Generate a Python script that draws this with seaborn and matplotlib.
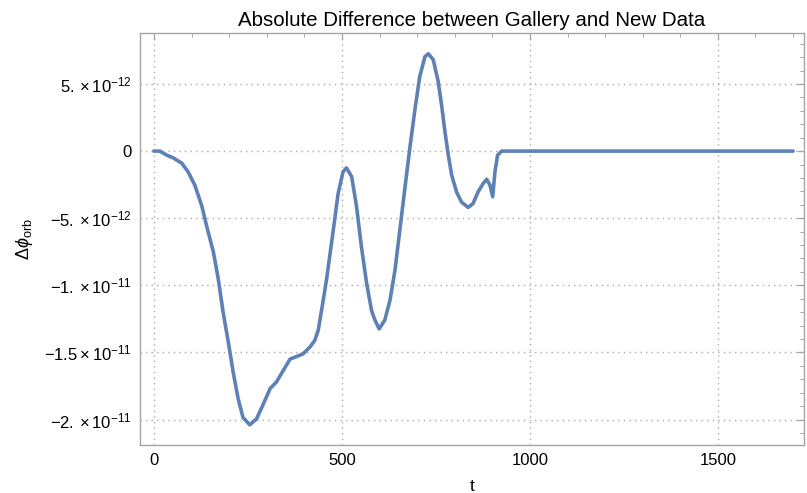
import numpy as np
import pandas as pd
import matplotlib
matplotlib.use("Agg")
import matplotlib.pyplot as plt
from matplotlib.ticker import MultipleLocator, FixedLocator
import seaborn as sns

# data (values of delta phi in units of 1e-12)
t_vals = [0, 16, 34, 51, 74, 91, 109, 127, 140, 158, 171, 184, 198, 211, 224,
          237, 255, 273, 291, 309, 326, 344, 362, 380, 397, 415, 428, 437, 446,
          459, 477, 490, 503, 512, 526, 539, 552, 566, 579, 588, 599, 614, 628,
          641, 654, 668, 681, 694, 707, 721, 730, 743, 756, 765, 774, 783, 792,
          805, 818, 836, 849, 862, 876, 885, 894, 901, 907, 914, 925, 1000,
          1200, 1400, 1600, 1700]
dphi_e12 = [0, 0, -0.3, -0.5, -0.9, -1.55, -2.55, -4.05, -5.55, -7.5, -9.5,
            -12.0, -14.25, -16.5, -18.45, -19.85, -20.4, -19.95, -18.85, -17.7,
            -17.2, -16.35, -15.5, -15.3, -15.1, -14.6, -14.1, -13.35, -11.85,
            -9.6, -5.9, -3.15, -1.55, -1.25, -1.9, -4.15, -7.15, -9.9, -11.9,
            -12.6, -13.25, -12.6, -11.1, -8.9, -5.9, -2.65, 0.3, 3.05, 5.55,
            7.05, 7.25, 6.8, 5.2, 3.45, 1.45, -0.3, -1.8, -3.05, -3.8, -4.2,
            -3.9, -3.05, -2.4, -2.1, -2.55, -3.4, -1.55, -0.3, 0, 0, 0, 0, 0, 0]

x_ticks = [0, 500, 1000, 1500]
x_tick_labels = ["0", "500", "1000", "1500"]
y_ticks = [5e-12, 0, -5e-12, -1e-11, -1.5e-11, -2e-11]
y_tick_labels = [r"$5.\times10^{-12}$", "0", r"$-5.\times10^{-12}$",
                 r"$-1.\times10^{-11}$", r"$-1.5\times10^{-11}$", r"$-2.\times10^{-11}$"]

df = pd.DataFrame({"t": t_vals, "dphi": np.array(dphi_e12) * 1e-12})

sns.set_style("white")
plt.rcParams["font.family"] = ["Liberation Sans", "DejaVu Sans"]
plt.rcParams["mathtext.fontset"] = "custom"
plt.rcParams["mathtext.rm"] = "Liberation Sans"
plt.rcParams["mathtext.it"] = "Liberation Sans:italic"
plt.rcParams["mathtext.bf"] = "Liberation Sans:bold"
plt.rcParams["text.color"] = "black"
plt.rcParams["axes.labelcolor"] = "black"

fig = plt.figure(figsize=(8.07, 4.93), dpi=100)
ax = fig.add_axes([140 / 807, 48 / 493, 664 / 807, 412 / 493])

sns.lineplot(data=df, x="t", y="dphi", ax=ax, color="#5E81B5", linewidth=2.6,
             estimator=None, sort=False)
ax.lines[-1].set_solid_joinstyle("round")
ax.lines[-1].set_solid_capstyle("round")

ax.set_xlim(-37, 1729)
ax.set_ylim(-21.9e-12, 8.8e-12)

ax.xaxis.set_major_locator(FixedLocator(x_ticks))
ax.set_xticklabels(x_tick_labels)
ax.xaxis.set_minor_locator(MultipleLocator(100))
ax.yaxis.set_major_locator(FixedLocator(y_ticks))
ax.set_yticklabels(y_tick_labels)
ax.yaxis.set_minor_locator(MultipleLocator(1e-12))

frame_col = "#A6A6A6"
for s in ax.spines.values():
    s.set_color(frame_col)
    s.set_linewidth(1.0)

ax.tick_params(which="both", direction="in", top=True, right=True,
               color=frame_col, labelsize=12, labelcolor="black")
ax.tick_params(which="major", length=5, width=0.9, pad=6)
ax.tick_params(which="minor", length=3, width=0.7)

ax.grid(True, which="major", linestyle=(0, (1, 3)), color="#AAAAAA", linewidth=1.0)
ax.set_axisbelow(True)

ax.set_title("Absolute Difference between Gallery and New Data", fontsize=14.8,
             pad=5, color="black")
ax.set_xlabel("t", fontsize=12.5, labelpad=8)
ax.set_ylabel(r"$\Delta\phi_{\mathrm{orb}}$", fontsize=13, labelpad=6)

fig.savefig("out.png", dpi=100)
